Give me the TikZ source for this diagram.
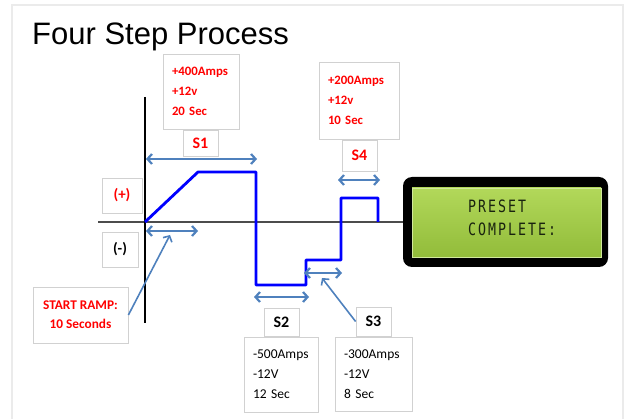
\documentclass[tikz,border=0pt]{standalone}
\usepackage{fontspec}
\setmainfont{Liberation Sans}
\newfontfamily\calfont{Carlito}
\newfontfamily\lcdfont{DejaVu Sans Mono}
\usetikzlibrary{arrows.meta,shadows}
\definecolor{arrblue}{RGB}{79,129,189}
\definecolor{wave}{RGB}{0,0,255}
\definecolor{lcdtop}{RGB}{178,216,90}
\definecolor{lcdbot}{RGB}{146,188,58}
\definecolor{lcdtext}{RGB}{25,35,15}
\newcommand\lc[1]{\makebox[12.8pt][l]{#1}}
\tikzset{
  x=1pt, y=-1pt,
  box/.style={draw=black!18, fill=white, line width=0.8pt, inner sep=0pt,
    drop shadow={shadow xshift=1pt, shadow yshift=-1pt, opacity=0.18, fill=black}},
  info/.style={box, align=left, inner xsep=9pt, inner ysep=0pt,
    font=\calfont\fontsize{13}{20}\selectfont},
  lab/.style={box, font=\calfont\bfseries\fontsize{16}{18}\selectfont},
  redt/.style={text=red},
  dbl/.style={arrblue, line width=2.2pt,
    {Straight Barb[length=4.5pt,width=10pt]}-{Straight Barb[length=4.5pt,width=10pt]}},
  ptr/.style={arrblue, line width=1.6pt, -{Straight Barb[length=4.5pt,width=10pt]}},
  wavel/.style={wave, line width=2.8pt, line join=round},
  lcdt/.style={anchor=base west, inner sep=0pt, text=lcdtext, xscale=0.78,
    font=\lcdfont\fontsize{17}{18}\selectfont},
}
\begin{document}
\begin{tikzpicture}
\useasboundingbox (0,0) rectangle (629,419);
% frame
\draw[black!8, line width=2pt] (12,419) -- (12,5) -- (623,5) -- (623,419);
% title
\node[anchor=base west, inner sep=0pt, font=\fontsize{31}{34}\selectfont] (title) at (32,45) {Four Step Process};

% LCD
\node[fill=black, rounded corners=9pt, minimum width=205pt, minimum height=90pt, inner sep=0pt] (lcd) at (505.5,222) {};
\node[top color=lcdtop, bottom color=lcdbot, draw=lcdtop!60!white, line width=0.8pt, minimum width=189pt, minimum height=69pt, inner sep=0pt] (screen) at (506.5,222.5) {};
\node[lcdt] (l1) at (468,213) {\lc{P}\lc{R}\lc{E}\lc{S}\lc{E}\lc{T}};
\node[lcdt] (l2) at (468,236) {\lc{C}\lc{O}\lc{M}\lc{P}\lc{L}\lc{E}\lc{T}\lc{E}\lc{:}};

% axes
\coordinate (hx0) at (98,222);
\coordinate (vy0) at (145,97);
\coordinate (vy1) at (145,323);
\draw[black!70, line width=1.5pt] (hx0) -- (lcd.west);
\draw[black, line width=1.6pt] (vy0) -- (vy1);

% waveform
\draw[wavel] (145,222) -- (198,172) -- (256,172) -- (256,285) -- (306,285)
  -- (306,260) -- (341,260) -- (341,198) -- (378,198) -- (378,222);

% boxes
\node[info, redt, text width=58pt, minimum height=75pt, font=\calfont\bfseries\fontsize{12.8}{20}\selectfont] (s1info) at (201,91.5) {+400Amps\\+12v\\20 Sec};
\node[lab, redt, minimum width=35pt, minimum height=26pt] (s1lab) at (200.5,143) {S1};
\node[info, redt, text width=62pt, minimum height=77pt, font=\calfont\bfseries\fontsize{12.8}{20}\selectfont] (s4info) at (359,100.5) {+200Amps\\+12v\\10 Sec};
\node[lab, redt, minimum width=35pt, minimum height=31pt] (s4lab) at (359.5,155.5) {S4};
\node[lab, redt, minimum width=40pt, minimum height=35pt, font=\calfont\bfseries\fontsize{15}{18}\selectfont] (plus) at (122,195.5) {(+)};
\node[lab, minimum width=36pt, minimum height=35pt, font=\calfont\bfseries\fontsize{15}{18}\selectfont] (minus) at (120,249.5) {(-)};
\node[box, redt, align=center, minimum width=95pt, minimum height=56pt, font=\calfont\bfseries\fontsize{13.3}{19}\selectfont] (ramp) at (80.5,315) {START RAMP:\\10 Seconds};
\node[lab, minimum width=35pt, minimum height=28pt] (s2lab) at (281.5,322) {S2};
\node[info, text width=56pt, minimum height=75pt, font=\calfont\fontsize{13.5}{20}\selectfont] (s2info) at (281,374.5) {-500Amps\\-12V\\12 Sec};
\node[lab, minimum width=35pt, minimum height=29pt] (s3lab) at (373.5,321.5) {S3};
\node[info, text width=59pt, minimum height=74pt, font=\calfont\fontsize{13.5}{20}\selectfont] (s3info) at (373.5,374) {-300Amps\\-12V\\8 Sec};

% duration arrows
\coordinate (a1l) at (146,159); \coordinate (a1r) at (257,159);
\coordinate (a0l) at (146,231); \coordinate (a0r) at (198,231);
\coordinate (a2l) at (254,297); \coordinate (a2r) at (309,297);
\coordinate (a3l) at (304,273); \coordinate (a3r) at (342,273);
\coordinate (a4l) at (338,180); \coordinate (a4r) at (380,180);
\draw[dbl] (a1l) -- (a1r);
\draw[dbl] (a0l) -- (a0r);
\draw[dbl] (a2l) -- (a2r);
\draw[dbl] (a3l) -- (a3r);
\draw[dbl] (a4l) -- (a4r);

% pointers
\coordinate (p0) at (170,235);
\coordinate (p3) at (322,278);
\draw[ptr] (ramp.east) -- (p0);
\draw[ptr] (s3lab.west) -- (p3);
\end{tikzpicture}
\end{document}
